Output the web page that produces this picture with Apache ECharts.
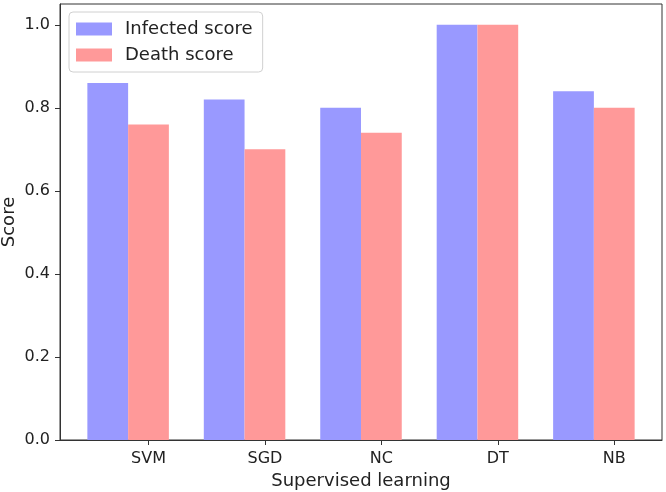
<!DOCTYPE html>
<html>
<head>
<meta charset="utf-8">
<script src="https://cdn.jsdelivr.net/npm/echarts@6/dist/echarts.min.js"></script>
<style>html,body{margin:0;padding:0;background:#fff}#c{width:666px;height:492px}</style>
</head>
<body>
<div id="c"></div>
<script>
const categories = ["SVM", "SGD", "NC", "DT", "NB"];
const infectedScore = [0.86, 0.82, 0.80, 1.0, 0.84];
const deathScore = [0.76, 0.70, 0.74, 1.0, 0.80];
const yTicks = [0, 0.2, 0.4, 0.6, 0.8, 1.0];
const barW = 0.35;

const FONT = "DejaVu Sans";
const chart = echarts.init(document.getElementById('c'), null, {renderer: 'canvas'});

function makeRender(color) {
  return function (params, api) {
    const x = api.value(0), y = api.value(1);
    const p0 = api.coord([x - barW / 2, y]);
    const p1 = api.coord([x + barW / 2, 0]);
    return {
      type: 'rect',
      shape: {x: p0[0], y: p0[1], width: p1[0] - p0[0], height: p1[1] - p0[1]},
      style: {fill: color}
    };
  };
}

const blue = '#9999ff', pink = '#ff9999';
const tickPos = categories.map((c, i) => i);

chart.setOption({
  animation: false,
  grid: {left: 60, right: 4, top: 4, bottom: 52, containLabel: false, outerBoundsMode: 'none',
    show: true, borderColor: '#333', borderWidth: 1, backgroundColor: 'transparent'},
  legend: {
    left: 69, top: 12,
    orient: 'vertical',
    icon: 'rect',
    itemWidth: 36, itemHeight: 13, itemGap: 8,
    padding: [8, 10, 8, 7],
    borderColor: '#d0d0d0', borderWidth: 1, borderRadius: 4,
    backgroundColor: '#fff',
    textStyle: {fontFamily: FONT, fontSize: 18, color: '#222', padding: [0, 0, 0, 8]},
    data: [{name: 'Infected score', itemStyle: {color: blue}}, {name: 'Death score', itemStyle: {color: pink}}]
  },
  xAxis: {
    type: 'value',
    min: -0.76, max: 4.41,
    name: 'Supervised learning',
    nameLocation: 'middle', nameGap: 32, nameMoveOverlap: false,
    nameTextStyle: {fontFamily: FONT, fontSize: 18, color: '#222'},
    axisLine: {onZero: false, lineStyle: {color: '#333'}},
    axisTick: {show: true, length: 5, customValues: tickPos, lineStyle: {color: '#333'}},
    axisLabel: {customValues: tickPos, fontFamily: FONT, fontSize: 16, color: '#222', margin: 11,
      formatter: v => categories[Math.round(v)]},
    splitLine: {show: false}
  },
  yAxis: {
    type: 'value',
    min: 0, max: 1.05,
    name: 'Score',
    nameLocation: 'middle', nameGap: 42, nameMoveOverlap: false,
    nameTextStyle: {fontFamily: FONT, fontSize: 18, color: '#222'},
    axisLine: {show: true, onZero: false, lineStyle: {color: '#333'}},
    axisTick: {show: true, length: 5, customValues: yTicks, lineStyle: {color: '#333'}},
    axisLabel: {customValues: yTicks, fontFamily: FONT, fontSize: 16, color: '#222', margin: 10,
      formatter: v => v.toFixed(1)},
    splitLine: {show: false}
  },
  series: [
    {
      name: 'Infected score', type: 'custom', itemStyle: {color: blue},
      renderItem: makeRender(blue),
      encode: {x: 0, y: 1},
      data: infectedScore.map((v, i) => [i - barW, v])
    },
    {
      name: 'Death score', type: 'custom', itemStyle: {color: pink},
      renderItem: makeRender(pink),
      encode: {x: 0, y: 1},
      data: deathScore.map((v, i) => [i, v])
    }
  ]
});
</script>
</body>
</html>
